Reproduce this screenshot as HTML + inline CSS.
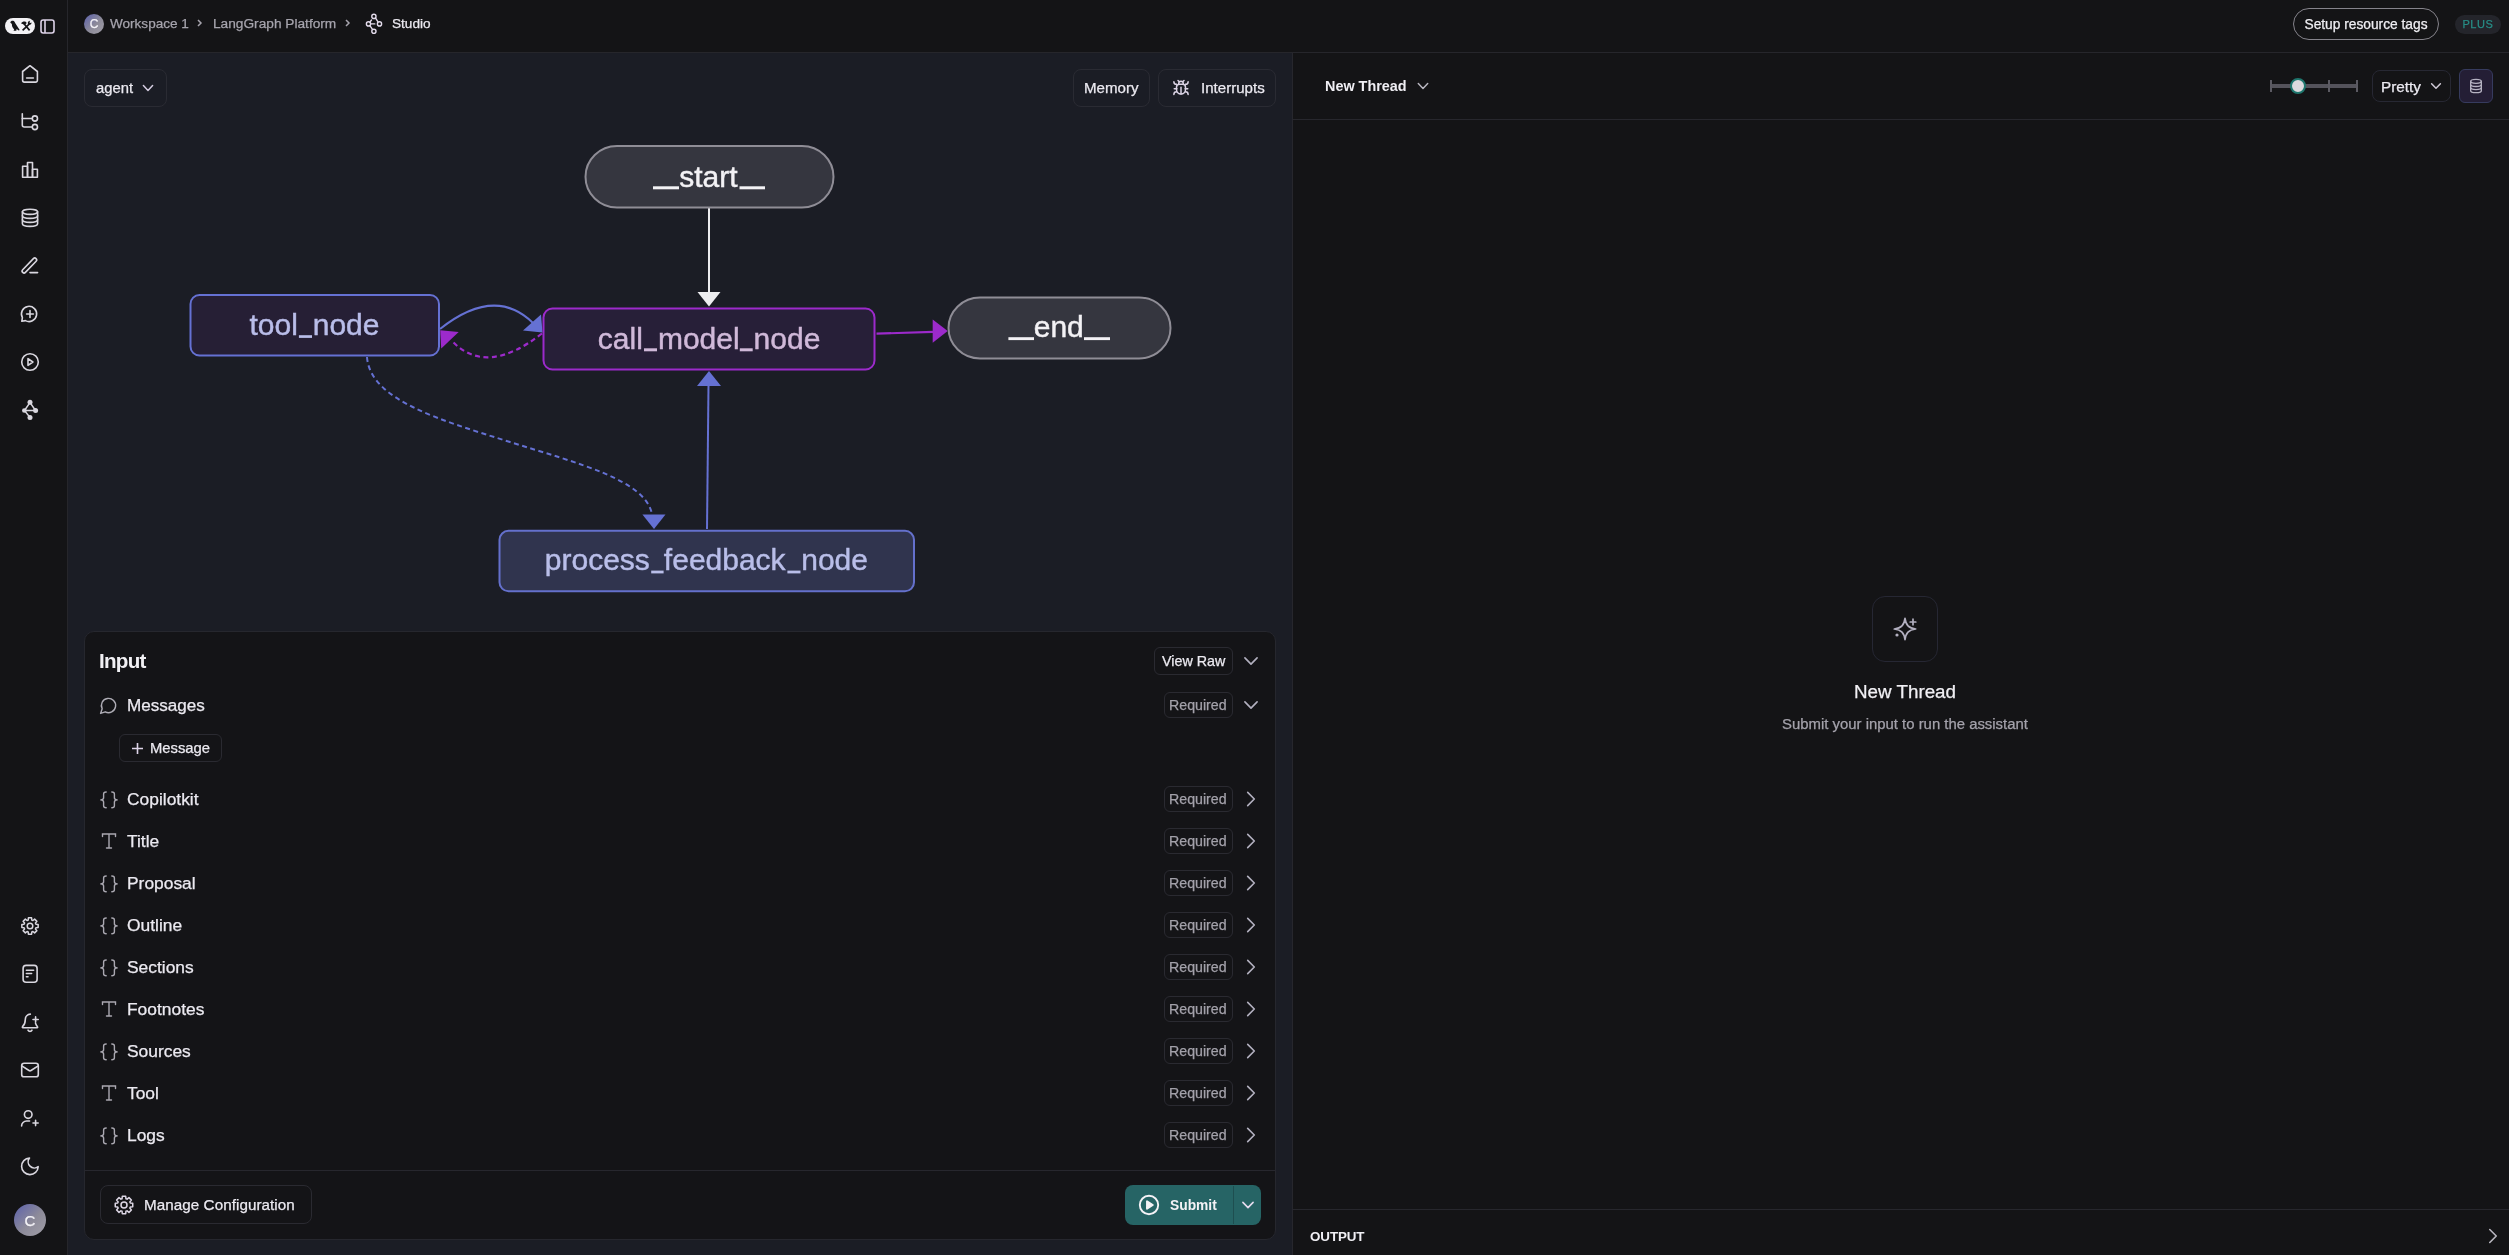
<!DOCTYPE html>
<html><head><meta charset="utf-8">
<style>
*{box-sizing:border-box;margin:0;padding:0}
html,body{width:2509px;height:1255px;overflow:hidden;background:#141416;font-family:"Liberation Sans",sans-serif;color:#ecebf0}
.abs{position:absolute}
#sidebar{position:absolute;left:0;top:0;width:68px;height:1255px;background:#141416;border-right:1px solid #26262b}
#topbar{position:absolute;left:68px;top:0;width:2441px;height:53px;background:#141416;border-bottom:1px solid #26262b}
#canvas{position:absolute;left:68px;top:53px;width:1225px;height:1202px;background:#1b1d25;border-right:1px solid #27272d}
#right{position:absolute;left:1293px;top:53px;width:1216px;height:1202px;background:#141416}
.bx{position:absolute;border:1px solid #2a2a31;border-radius:8px}
.t{position:absolute;white-space:nowrap;line-height:1;will-change:transform;-webkit-text-stroke:.25px currentColor}
.t[style*="bold"]{-webkit-text-stroke:0}
</style></head>
<body>
<div id="sidebar"></div>
<div id="topbar"></div>
<div id="canvas"></div>
<div id="right"></div>

<svg class="abs" style="left:0;top:0" width="67" height="1255" viewBox="0 0 67 1255" fill="none" stroke="#d9d7df" stroke-width="1.6" stroke-linecap="round" stroke-linejoin="round"><path d="M22.6 71.5 30 65.7l7.4 5.8V80.3a1.8 1.8 0 0 1-1.8 1.8H24.4a1.8 1.8 0 0 1-1.8-1.8z"/><path d="M26.6 78h6.8"/><path d="M22.3 113.8V125a2 2 0 0 0 2 2H32.2"/><path d="M22.3 118.5H32.2"/><circle cx="34.9" cy="118.5" r="2.6"/><circle cx="34.9" cy="127" r="2.6"/><path d="M22.6 177.3V166.2h4.9v11.1z"/><path d="M27.5 177.3V162.5h5v14.8z"/><path d="M32.5 177.3V169.3h4.9v8z"/><ellipse cx="30" cy="211.8" rx="7.6" ry="2.6"/><path d="M22.4 211.8v12c0 1.5 3.4 2.6 7.6 2.6s7.6-1.1 7.6-2.6v-12"/><path d="M22.4 215.8c0 1.5 3.4 2.6 7.6 2.6s7.6-1.1 7.6-2.6"/><path d="M22.4 219.8c0 1.5 3.4 2.6 7.6 2.6s7.6-1.1 7.6-2.6"/><path d="M30 272.6h7.6"/><rect x="-9.6" y="-1.9" width="19.2" height="3.8" rx="1.9" transform="translate(29.4 265.5) rotate(-46)"/><path d="M25.4 320.6A7.6 7.6 0 1 0 22.4 317.6L21.8 321.3z"/><path d="M26.6 314h6.8M30 310.6v6.8"/><circle cx="30" cy="362" r="8.3"/><path d="M28 358.6l4.9 3.4-4.9 3.4z"/><path d="M30 402.5 24.5 410.5 30 417.5M24.5 410.5H35.5M30 402.5 35.5 410.5" stroke-width="1.4"/><g fill="#d9d7df" stroke="none"><circle cx="30" cy="402.3" r="2.5"/><circle cx="24.3" cy="410.5" r="2.3"/><circle cx="35.6" cy="410.5" r="2.5"/><circle cx="30" cy="417.6" r="2.5"/></g><path d="M28.19 920.07 L28.42 917.85 L31.58 917.85 L31.81 920.07 L32.91 920.53 L34.64 919.12 L36.88 921.36 L35.47 923.09 L35.93 924.19 L38.15 924.42 L38.15 927.58 L35.93 927.81 L35.47 928.91 L36.88 930.64 L34.64 932.88 L32.91 931.47 L31.81 931.93 L31.58 934.15 L28.42 934.15 L28.19 931.93 L27.09 931.47 L25.36 932.88 L23.12 930.64 L24.53 928.91 L24.07 927.81 L21.85 927.58 L21.85 924.42 L24.07 924.19 L24.53 923.09 L23.12 921.36 L25.36 919.12 L27.09 920.53Z" stroke-width="1.5"/><circle cx="30" cy="926" r="2.8" stroke-width="1.5"/><rect x="23.1" y="965.4" width="14" height="16.8" rx="3"/><path d="M26.4 970.2h7.2M26.4 973.5h5.2M26.4 976.8h1.6"/><path d="M28 1030.2a2.2 2.2 0 0 0 4 0"/><path d="M33 1019.5h5.2M35.6 1016.9v5.2"/><path d="M30.3 1014.1A5.4 5.4 0 0 0 25.3 1019.4c0 4.4-1.3 5.9-2.8 7.3-.3.3-.2 1 .4 1h14.2c.6 0 .7-.7.4-1-.8-.9-1.6-1.8-2-3.6"/><rect x="21.7" y="1063.2" width="16.6" height="13.6" rx="2.4"/><path d="m38.2 1065.8-7.2 4.7a1.8 1.8 0 0 1-2 0l-7.2-4.7"/><circle cx="28.2" cy="1114.6" r="3.8"/><path d="M21.6 1126a5 5 0 0 1 5-5h3"/><path d="M35.6 1120.4v5.2M33 1123h5.2"/><path d="M29.5 1158a6.2 6.2 0 0 0 8.7 8.7 8.3 8.3 0 1 1-8.7-8.7z"/></svg>
<div class="abs" style="left:14px;top:1204px;width:32px;height:32px;border-radius:50%;background:linear-gradient(135deg,#5b60ad 0%,#8d8b99 55%,#a19fa8 100%)"></div>
<div class="t" style="left:14px;top:1213px;width:32px;text-align:center;font-size:15px;color:#f4f3f7">C</div>
<div class="abs" style="left:5px;top:18px;width:30px;height:16px;border-radius:8px;background:#f3f2f5"></div>
<svg class="abs" style="left:5px;top:18px" width="30" height="16" viewBox="0 0 30 16"><path d="M5.3 4.4C5.6 3.1 6.9 2.5 8.1 2.8 9.3 3.1 9.9 4.2 10.3 5.2L14.7 12.1 13.7 12.6 11.6 11.1 11.3 12.7H8.5L9.2 11.6 8.2 10.3C7.2 9 6.8 7.6 6.9 6.1L6 5.3Z" fill="#141416"/><path d="M18.6 5.2 24.6 12.4M24.4 5.9 17.6 12.4" stroke="#141416" stroke-width="1.7"/><path d="M16.1 5.4C16.9 3.9 18.8 3.3 20.6 3.7L21.8 4.9 19.9 6.8Z" fill="#141416"/><path d="M23.4 6.4C22.4 5.4 22.6 3.7 24 3.1L25.2 2.8 24.4 4.3 25.2 5.1 26.6 4.4 26.4 5.6C25.8 6.9 24.3 7.2 23.4 6.4Z" fill="#141416"/></svg>
<svg class="abs" style="left:40px;top:19px" width="15" height="15" viewBox="0 0 15 15" fill="none" stroke="#ddd2e8" stroke-width="1.6"><rect x="1" y="1" width="13" height="13" rx="2.2"/><path d="M5 1v13"/></svg>
<div class="abs" style="left:84px;top:14px;width:20px;height:20px;border-radius:50%;background:linear-gradient(135deg,#5b60ad 0%,#8d8b99 55%,#a19fa8 100%)"></div>
<div class="t" style="left:84px;top:18px;width:20px;text-align:center;font-size:12px;color:#f4f3f7">C</div>
<div class="t" style="left:110px;top:16.6px;font-size:13.55px;color:#a6a4ad">Workspace 1</div>
<svg class="abs" style="left:195px;top:17px" width="10" height="12" viewBox="0 0 10 12" fill="none" stroke="#a6a4ad" stroke-width="1.5"><path d="m3 3 3 3-3 3"/></svg>
<div class="t" style="left:213px;top:16.6px;font-size:13.7px;color:#a6a4ad">LangGraph Platform</div>
<svg class="abs" style="left:343px;top:17px" width="10" height="12" viewBox="0 0 10 12" fill="none" stroke="#a6a4ad" stroke-width="1.5"><path d="m3 3 3 3-3 3"/></svg>
<svg class="abs" style="left:362px;top:10px" width="22" height="26" viewBox="362 10 22 26" fill="none" stroke="#e4dcec" stroke-width="1.4" stroke-linecap="round"><circle cx="373.9" cy="16.4" r="2.1"/><circle cx="368.5" cy="23.9" r="2.1"/><circle cx="379.5" cy="23.9" r="2.1"/><circle cx="373.9" cy="31.3" r="2.1"/><path d="M370.6 23.9h4.2M369.9 22.2l1.6-2.2M375.6 18.2l2.4 3.6M369.9 25.7l2.4 3.5"/></svg>
<div class="t" style="left:392px;top:16.6px;font-size:13.6px;color:#ebe9f0">Studio</div>
<div class="abs" style="left:2293px;top:8px;width:146px;height:32px;border-radius:16px;border:1px solid #85838b"></div>
<div class="t" style="left:2293px;top:18px;width:146px;text-align:center;font-size:13.75px;color:#efeef3">Setup resource tags</div>
<div class="abs" style="left:2455px;top:15px;width:46px;height:19px;border-radius:10px;background:#24252b"></div>
<div class="t" style="left:2455px;top:19px;width:46px;text-align:center;font-size:11px;letter-spacing:.6px;color:#278d86">PLUS</div>
<div class="bx" style="left:84px;top:69px;width:83px;height:38px;border-color:#2a2b33"></div>
<div class="t" style="left:95.5px;top:81px;font-size:14.8px;color:#eceaf1">agent</div>
<svg class="abs" style="left:138px;top:78px" width="20" height="20" viewBox="0 0 20 20" fill="none" stroke="#d4cce0" stroke-width="1.5" stroke-linecap="round" stroke-linejoin="round"><path d="M5.4 7.5 L10 12.5 L14.6 7.5"/></svg>
<div class="bx" style="left:1073px;top:69px;width:77px;height:38px;border-color:#2a2b33"></div>
<div class="t" style="left:1084.4px;top:80px;font-size:15.1px;color:#eceaf1">Memory</div>
<div class="bx" style="left:1158px;top:69px;width:118px;height:38px;border-color:#2a2b33"></div>
<svg class="abs" style="left:1172px;top:79px" width="18" height="18" viewBox="0 0 24 24" fill="none" stroke="#dcd4e6" stroke-width="2" stroke-linecap="round"><path d="m8 2 1.9 1.9M14.1 3.9 16 2M9 7.1v-1a3 3 0 1 1 6 0v1"/><path d="M12 20c-3.3 0-6-2.7-6-6v-3a4 4 0 0 1 4-4h4a4 4 0 0 1 4 4v3c0 3.3-2.7 6-6 6"/><path d="M12 20v-9M6.5 13H3M21 13h-3.5M6 7.1C4 7 2.5 5.5 2.5 3.5M6 17c-2 0-3.5 1.5-3.5 3.5M21.5 3.5c0 2-1.5 3.5-3.5 3.6M18 17c2 0 3.5 1.5 3.5 3.5"/></svg>
<div class="t" style="left:1201.4px;top:80px;font-size:15.1px;color:#eceaf1">Interrupts</div>
<svg class="abs" style="left:0;top:0;will-change:transform" width="2509" height="1255" viewBox="0 0 2509 1255"><path d="M709 208V293" stroke="#ededf0" stroke-width="2" fill="none"/><path d="M697.5 292 L720.5 292 L709 306.5z" fill="#ededf0"/><path d="M440 329 Q495 285.5 533 323" stroke="#6571d3" stroke-width="2" fill="none"/><path d="M523 330.5 L541 314.5 L542.5 332.5z" fill="#6571d3"/><path d="M542 333.5 Q486 377 452 341" stroke="#9c2acb" stroke-width="2.2" fill="none" stroke-dasharray="5 3.5"/><path d="M458.7 332 L441.2 348.6 L440.2 330.2z" fill="#9c2acb"/><path d="M876.5 333.7 L933 331.8" stroke="#9c2acb" stroke-width="2.2" fill="none"/><path d="M932.7 319.6 L932.7 342.8 L947.7 331.1z" fill="#9c2acb"/><path d="M367 357 C370 400 440 420 510 442 C580 464 645 480 652 514" stroke="#6571d3" stroke-width="2" fill="none" stroke-dasharray="5 3.5"/><path d="M642.4 514.6 L665.5 514.6 L654 529z" fill="#6571d3"/><path d="M707 529 L708.5 385" stroke="#6571d3" stroke-width="2" fill="none"/><path d="M697 386 L721 386 L709 371z" fill="#6571d3"/><rect x="585.5" y="146" width="248" height="61.5" rx="31.5" fill="#35363f" stroke="#8f8d96" stroke-width="2"/><text x="679.17" y="186.5" font-family="Liberation Sans" font-size="30" fill="#f3f2f5" stroke="#f3f2f5" stroke-width="0.45">start</text><rect x="653" y="186.3" width="26" height="3.0" fill="#f3f2f5"/><rect x="739.5" y="186.3" width="25.5" height="3.0" fill="#f3f2f5"/><rect x="190.5" y="295" width="248.5" height="60.5" rx="9" fill="#261f35" stroke="#6571d3" stroke-width="2"/><text x="249.45" y="334.9" font-family="Liberation Sans" font-size="30" fill="#b9bde9" stroke="#b9bde9" stroke-width="0.45">tool</text><text x="312.71" y="334.9" font-family="Liberation Sans" font-size="30" fill="#b9bde9" stroke="#b9bde9" stroke-width="0.45">node</text><rect x="298.9" y="335.2" width="13.100000000000023" height="2.6999999999999886" fill="#b9bde9"/><rect x="543.5" y="308.5" width="331" height="61" rx="9" fill="#271f38" stroke="#9c2acb" stroke-width="2"/><text x="597.83" y="348.7" font-family="Liberation Sans" font-size="30" fill="#d0b9d9" stroke="#d0b9d9" stroke-width="0.45">call</text><text x="657.91" y="348.7" font-family="Liberation Sans" font-size="30" fill="#d0b9d9" stroke="#d0b9d9" stroke-width="0.45">model</text><text x="753.61" y="348.7" font-family="Liberation Sans" font-size="30" fill="#d0b9d9" stroke="#d0b9d9" stroke-width="0.45">node</text><rect x="644" y="348.3" width="13" height="3.0" fill="#d0b9d9"/><rect x="739.8" y="348.3" width="12.900000000000091" height="3.0" fill="#d0b9d9"/><rect x="948.5" y="297.5" width="222" height="61" rx="31.5" fill="#35363f" stroke="#8f8d96" stroke-width="2"/><text x="1033.72" y="337" font-family="Liberation Sans" font-size="30" fill="#f3f2f5" stroke="#f3f2f5" stroke-width="0.45">end</text><rect x="1008.4" y="337.2" width="25.600000000000023" height="2.900000000000034" fill="#f3f2f5"/><rect x="1084" y="337.2" width="26" height="2.900000000000034" fill="#f3f2f5"/><rect x="499.5" y="530.8" width="414.5" height="60.5" rx="9" fill="#30344e" stroke="#6470cc" stroke-width="2"/><text x="544.77" y="570.3" font-family="Liberation Sans" font-size="30" fill="#b9bee9" stroke="#b9bee9" stroke-width="0.45">process</text><text x="663.87" y="570.3" font-family="Liberation Sans" font-size="30" fill="#b9bee9" stroke="#b9bee9" stroke-width="0.45">feedback</text><text x="801.21" y="570.3" font-family="Liberation Sans" font-size="30" fill="#b9bee9" stroke="#b9bee9" stroke-width="0.45">node</text><rect x="651.2" y="570.6" width="12.399999999999977" height="2.7999999999999545" fill="#b9bee9"/><rect x="787.4" y="570.6" width="13.100000000000023" height="2.7999999999999545" fill="#b9bee9"/></svg>
<div class="abs" style="left:84px;top:631px;width:1192px;height:609px;border-radius:10px;background:#141417;border:1px solid #26272e"></div>
<div class="abs" style="left:85px;top:1170px;width:1190px;height:1px;background:#27272e"></div>
<div class="t" style="left:99px;top:650.5px;font-size:20.6px;letter-spacing:-0.75px;font-weight:bold;color:#f1f0f4">Input</div>
<div class="bx" style="left:1154px;top:647px;width:79px;height:28px;border-radius:6px"></div>
<div class="t" style="left:1162px;top:653.5px;font-size:14.3px;color:#eceaf1">View Raw</div>
<svg class="abs" style="left:1241px;top:650.9px" width="20" height="20" viewBox="0 0 20 20" fill="none" stroke="#b3b1c0" stroke-width="1.6" stroke-linecap="round" stroke-linejoin="round"><path d="M3.9000000000000004 6.9 L10 13.1 L16.1 6.9"/></svg>
<svg class="abs" style="left:99px;top:696px" width="19" height="19" viewBox="0 0 24 24" fill="none" stroke="#aeacb5" stroke-width="1.8" stroke-linejoin="round"><path d="M7.9 20A9 9 0 1 0 4 16.1L2 22z"/></svg>
<div class="t" style="left:127.4px;top:697px;font-size:17.1px;color:#eceaf1">Messages</div>
<div class="bx" style="left:1164px;top:692px;width:69px;height:26px;border-radius:6px"></div>
<div class="t" style="left:1169px;top:697.5px;font-size:14.2px;color:#a3a1aa">Required</div>
<svg class="abs" style="left:1241px;top:695px" width="20" height="20" viewBox="0 0 20 20" fill="none" stroke="#b3b1c0" stroke-width="1.6" stroke-linecap="round" stroke-linejoin="round"><path d="M3.9000000000000004 6.9 L10 13.1 L16.1 6.9"/></svg>
<div class="bx" style="left:119px;top:734px;width:103px;height:28px;border-radius:6px"></div>
<svg class="abs" style="left:131px;top:742px" width="13" height="13" viewBox="0 0 13 13" fill="none" stroke="#ddd4e8" stroke-width="1.6"><path d="M6.5 1v11M1 6.5h11"/></svg>
<div class="t" style="left:150px;top:741px;font-size:14.8px;color:#eceaf1">Message</div>
<svg class="abs" style="left:100px;top:790.6px" width="18" height="18" viewBox="0 0 18 18" fill="none" stroke="#aaa8b1" stroke-width="1.4" stroke-linecap="round" stroke-linejoin="round"><path d="M6.2 1C4.5 1 3.6 1.6 3.6 3V6.8C3.6 8 2.6 8.8 0.8 8.9 2.6 9 3.6 9.8 3.6 11V14.8C3.6 16.2 4.5 16.8 6.2 16.8"/><path d="M11.8 1C13.5 1 14.4 1.6 14.4 3V6.8C14.4 8 15.4 8.8 17.2 8.9 15.4 9 14.4 9.8 14.4 11V14.8C14.4 16.2 13.5 16.8 11.8 16.8"/></svg>
<div class="t" style="left:127.4px;top:790.7px;font-size:17.4px;color:#eceaf1">Copilotkit</div>
<div class="bx" style="left:1164px;top:786px;width:69px;height:26px;border-radius:6px"></div>
<div class="t" style="left:1169px;top:791.5px;font-size:14.2px;color:#a3a1aa">Required</div>
<svg class="abs" style="left:1241px;top:789px" width="20" height="20" viewBox="0 0 20 20" fill="none" stroke="#b3b1c0" stroke-width="1.6" stroke-linecap="round" stroke-linejoin="round"><path d="M6.7 3.4000000000000004 L13.3 10 L6.7 16.6"/></svg>
<svg class="abs" style="left:101px;top:833px" width="16" height="16" viewBox="0 0 16 16" fill="none" stroke="#aaa8b1" stroke-width="1.4" stroke-linecap="round"><path d="M1.5 3.5V1h13v2.5M8 1v14M5.5 15h5"/></svg>
<div class="t" style="left:127.4px;top:832.7px;font-size:17.4px;color:#eceaf1">Title</div>
<div class="bx" style="left:1164px;top:828px;width:69px;height:26px;border-radius:6px"></div>
<div class="t" style="left:1169px;top:833.5px;font-size:14.2px;color:#a3a1aa">Required</div>
<svg class="abs" style="left:1241px;top:831px" width="20" height="20" viewBox="0 0 20 20" fill="none" stroke="#b3b1c0" stroke-width="1.6" stroke-linecap="round" stroke-linejoin="round"><path d="M6.7 3.4000000000000004 L13.3 10 L6.7 16.6"/></svg>
<svg class="abs" style="left:100px;top:874.6px" width="18" height="18" viewBox="0 0 18 18" fill="none" stroke="#aaa8b1" stroke-width="1.4" stroke-linecap="round" stroke-linejoin="round"><path d="M6.2 1C4.5 1 3.6 1.6 3.6 3V6.8C3.6 8 2.6 8.8 0.8 8.9 2.6 9 3.6 9.8 3.6 11V14.8C3.6 16.2 4.5 16.8 6.2 16.8"/><path d="M11.8 1C13.5 1 14.4 1.6 14.4 3V6.8C14.4 8 15.4 8.8 17.2 8.9 15.4 9 14.4 9.8 14.4 11V14.8C14.4 16.2 13.5 16.8 11.8 16.8"/></svg>
<div class="t" style="left:127.4px;top:874.7px;font-size:17.4px;color:#eceaf1">Proposal</div>
<div class="bx" style="left:1164px;top:870px;width:69px;height:26px;border-radius:6px"></div>
<div class="t" style="left:1169px;top:875.5px;font-size:14.2px;color:#a3a1aa">Required</div>
<svg class="abs" style="left:1241px;top:873px" width="20" height="20" viewBox="0 0 20 20" fill="none" stroke="#b3b1c0" stroke-width="1.6" stroke-linecap="round" stroke-linejoin="round"><path d="M6.7 3.4000000000000004 L13.3 10 L6.7 16.6"/></svg>
<svg class="abs" style="left:100px;top:916.6px" width="18" height="18" viewBox="0 0 18 18" fill="none" stroke="#aaa8b1" stroke-width="1.4" stroke-linecap="round" stroke-linejoin="round"><path d="M6.2 1C4.5 1 3.6 1.6 3.6 3V6.8C3.6 8 2.6 8.8 0.8 8.9 2.6 9 3.6 9.8 3.6 11V14.8C3.6 16.2 4.5 16.8 6.2 16.8"/><path d="M11.8 1C13.5 1 14.4 1.6 14.4 3V6.8C14.4 8 15.4 8.8 17.2 8.9 15.4 9 14.4 9.8 14.4 11V14.8C14.4 16.2 13.5 16.8 11.8 16.8"/></svg>
<div class="t" style="left:127.4px;top:916.7px;font-size:17.4px;color:#eceaf1">Outline</div>
<div class="bx" style="left:1164px;top:912px;width:69px;height:26px;border-radius:6px"></div>
<div class="t" style="left:1169px;top:917.5px;font-size:14.2px;color:#a3a1aa">Required</div>
<svg class="abs" style="left:1241px;top:915px" width="20" height="20" viewBox="0 0 20 20" fill="none" stroke="#b3b1c0" stroke-width="1.6" stroke-linecap="round" stroke-linejoin="round"><path d="M6.7 3.4000000000000004 L13.3 10 L6.7 16.6"/></svg>
<svg class="abs" style="left:100px;top:958.6px" width="18" height="18" viewBox="0 0 18 18" fill="none" stroke="#aaa8b1" stroke-width="1.4" stroke-linecap="round" stroke-linejoin="round"><path d="M6.2 1C4.5 1 3.6 1.6 3.6 3V6.8C3.6 8 2.6 8.8 0.8 8.9 2.6 9 3.6 9.8 3.6 11V14.8C3.6 16.2 4.5 16.8 6.2 16.8"/><path d="M11.8 1C13.5 1 14.4 1.6 14.4 3V6.8C14.4 8 15.4 8.8 17.2 8.9 15.4 9 14.4 9.8 14.4 11V14.8C14.4 16.2 13.5 16.8 11.8 16.8"/></svg>
<div class="t" style="left:127.4px;top:958.7px;font-size:17.4px;color:#eceaf1">Sections</div>
<div class="bx" style="left:1164px;top:954px;width:69px;height:26px;border-radius:6px"></div>
<div class="t" style="left:1169px;top:959.5px;font-size:14.2px;color:#a3a1aa">Required</div>
<svg class="abs" style="left:1241px;top:957px" width="20" height="20" viewBox="0 0 20 20" fill="none" stroke="#b3b1c0" stroke-width="1.6" stroke-linecap="round" stroke-linejoin="round"><path d="M6.7 3.4000000000000004 L13.3 10 L6.7 16.6"/></svg>
<svg class="abs" style="left:101px;top:1001px" width="16" height="16" viewBox="0 0 16 16" fill="none" stroke="#aaa8b1" stroke-width="1.4" stroke-linecap="round"><path d="M1.5 3.5V1h13v2.5M8 1v14M5.5 15h5"/></svg>
<div class="t" style="left:127.4px;top:1000.7px;font-size:17.4px;color:#eceaf1">Footnotes</div>
<div class="bx" style="left:1164px;top:996px;width:69px;height:26px;border-radius:6px"></div>
<div class="t" style="left:1169px;top:1001.5px;font-size:14.2px;color:#a3a1aa">Required</div>
<svg class="abs" style="left:1241px;top:999px" width="20" height="20" viewBox="0 0 20 20" fill="none" stroke="#b3b1c0" stroke-width="1.6" stroke-linecap="round" stroke-linejoin="round"><path d="M6.7 3.4000000000000004 L13.3 10 L6.7 16.6"/></svg>
<svg class="abs" style="left:100px;top:1042.6px" width="18" height="18" viewBox="0 0 18 18" fill="none" stroke="#aaa8b1" stroke-width="1.4" stroke-linecap="round" stroke-linejoin="round"><path d="M6.2 1C4.5 1 3.6 1.6 3.6 3V6.8C3.6 8 2.6 8.8 0.8 8.9 2.6 9 3.6 9.8 3.6 11V14.8C3.6 16.2 4.5 16.8 6.2 16.8"/><path d="M11.8 1C13.5 1 14.4 1.6 14.4 3V6.8C14.4 8 15.4 8.8 17.2 8.9 15.4 9 14.4 9.8 14.4 11V14.8C14.4 16.2 13.5 16.8 11.8 16.8"/></svg>
<div class="t" style="left:127.4px;top:1042.7px;font-size:17.4px;color:#eceaf1">Sources</div>
<div class="bx" style="left:1164px;top:1038px;width:69px;height:26px;border-radius:6px"></div>
<div class="t" style="left:1169px;top:1043.5px;font-size:14.2px;color:#a3a1aa">Required</div>
<svg class="abs" style="left:1241px;top:1041px" width="20" height="20" viewBox="0 0 20 20" fill="none" stroke="#b3b1c0" stroke-width="1.6" stroke-linecap="round" stroke-linejoin="round"><path d="M6.7 3.4000000000000004 L13.3 10 L6.7 16.6"/></svg>
<svg class="abs" style="left:101px;top:1085px" width="16" height="16" viewBox="0 0 16 16" fill="none" stroke="#aaa8b1" stroke-width="1.4" stroke-linecap="round"><path d="M1.5 3.5V1h13v2.5M8 1v14M5.5 15h5"/></svg>
<div class="t" style="left:127.4px;top:1084.7px;font-size:17.4px;color:#eceaf1">Tool</div>
<div class="bx" style="left:1164px;top:1080px;width:69px;height:26px;border-radius:6px"></div>
<div class="t" style="left:1169px;top:1085.5px;font-size:14.2px;color:#a3a1aa">Required</div>
<svg class="abs" style="left:1241px;top:1083px" width="20" height="20" viewBox="0 0 20 20" fill="none" stroke="#b3b1c0" stroke-width="1.6" stroke-linecap="round" stroke-linejoin="round"><path d="M6.7 3.4000000000000004 L13.3 10 L6.7 16.6"/></svg>
<svg class="abs" style="left:100px;top:1126.6px" width="18" height="18" viewBox="0 0 18 18" fill="none" stroke="#aaa8b1" stroke-width="1.4" stroke-linecap="round" stroke-linejoin="round"><path d="M6.2 1C4.5 1 3.6 1.6 3.6 3V6.8C3.6 8 2.6 8.8 0.8 8.9 2.6 9 3.6 9.8 3.6 11V14.8C3.6 16.2 4.5 16.8 6.2 16.8"/><path d="M11.8 1C13.5 1 14.4 1.6 14.4 3V6.8C14.4 8 15.4 8.8 17.2 8.9 15.4 9 14.4 9.8 14.4 11V14.8C14.4 16.2 13.5 16.8 11.8 16.8"/></svg>
<div class="t" style="left:127.4px;top:1126.7px;font-size:17.4px;color:#eceaf1">Logs</div>
<div class="bx" style="left:1164px;top:1122px;width:69px;height:26px;border-radius:6px"></div>
<div class="t" style="left:1169px;top:1127.5px;font-size:14.2px;color:#a3a1aa">Required</div>
<svg class="abs" style="left:1241px;top:1125px" width="20" height="20" viewBox="0 0 20 20" fill="none" stroke="#b3b1c0" stroke-width="1.6" stroke-linecap="round" stroke-linejoin="round"><path d="M6.7 3.4000000000000004 L13.3 10 L6.7 16.6"/></svg>
<div class="bx" style="left:100px;top:1185px;width:212px;height:39px;border-radius:8px"></div>
<svg class="abs" style="left:112px;top:1193px" width="24" height="24" viewBox="112 1193 24 24" fill="none" stroke="#dcd6e4" stroke-width="1.5" stroke-linejoin="round"><path d="M122.07 1198.69 L122.30 1196.26 L125.70 1196.26 L125.93 1198.69 L127.10 1199.17 L128.98 1197.62 L131.38 1200.02 L129.83 1201.90 L130.31 1203.07 L132.74 1203.30 L132.74 1206.70 L130.31 1206.93 L129.83 1208.10 L131.38 1209.98 L128.98 1212.38 L127.10 1210.83 L125.93 1211.31 L125.70 1213.74 L122.30 1213.74 L122.07 1211.31 L120.90 1210.83 L119.02 1212.38 L116.62 1209.98 L118.17 1208.10 L117.69 1206.93 L115.26 1206.70 L115.26 1203.30 L117.69 1203.07 L118.17 1201.90 L116.62 1200.02 L119.02 1197.62 L120.90 1199.17Z"/><circle cx="124" cy="1205" r="3"/></svg>
<div class="t" style="left:144.3px;top:1196.5px;font-size:15.2px;letter-spacing:.07px;color:#eceaf1">Manage Configuration</div>
<div class="abs" style="left:1125px;top:1185px;width:136px;height:40px;border-radius:8px;background:#266465"></div>
<div class="abs" style="left:1233px;top:1186px;width:1px;height:38px;background:#1e4e50"></div>
<svg class="abs" style="left:1138px;top:1194px" width="22" height="22" viewBox="0 0 22 22" fill="none" stroke="#f4f2f6" stroke-width="1.9" stroke-linejoin="round"><circle cx="11" cy="11" r="9.2"/><path d="M9 7.2v7.6l5.8-3.8z" fill="#f4f2f6"/></svg>
<div class="t" style="left:1170px;top:1199px;font-size:13.8px;font-weight:bold;color:#f4f2f6">Submit</div>
<svg class="abs" style="left:1237.7px;top:1195px" width="20" height="20" viewBox="0 0 20 20" fill="none" stroke="#e6dcef" stroke-width="1.6" stroke-linecap="round" stroke-linejoin="round"><path d="M4.9 7.35 L10 12.65 L15.1 7.35"/></svg>
<div class="abs" style="left:1293px;top:119px;width:1216px;height:1px;background:#27272d"></div>
<div class="t" style="left:1325.4px;top:78.5px;font-size:14.4px;font-weight:bold;color:#f0eff4">New Thread</div>
<svg class="abs" style="left:1413px;top:75.9px" width="20" height="20" viewBox="0 0 20 20" fill="none" stroke="#b9b7c0" stroke-width="1.5" stroke-linecap="round" stroke-linejoin="round"><path d="M5.3 7.6 L10 12.4 L14.7 7.6"/></svg>
<div class="abs" style="left:2270px;top:84px;width:88px;height:4px;background:#54535b"></div>
<div class="abs" style="left:2270px;top:80px;width:2px;height:12px;background:#5b5a62"></div>
<div class="abs" style="left:2328px;top:80px;width:2px;height:12px;background:#5b5a62"></div>
<div class="abs" style="left:2356px;top:80px;width:2px;height:12px;background:#5b5a62"></div>
<div class="abs" style="left:2290px;top:78px;width:16px;height:16px;border-radius:50%;background:#dcdade;border:2px solid #1e766d"></div>
<div class="bx" style="left:2372px;top:70px;width:79px;height:32px;border-color:#272833"></div>
<div class="t" style="left:2381px;top:79px;font-size:15.3px;color:#eceaf1">Pretty</div>
<svg class="abs" style="left:2426.1px;top:76px" width="20" height="20" viewBox="0 0 20 20" fill="none" stroke="#cfc9d6" stroke-width="1.5" stroke-linecap="round" stroke-linejoin="round"><path d="M5.6 7.7 L10 12.3 L14.4 7.7"/></svg>
<div class="abs" style="left:2459px;top:69px;width:34px;height:34px;border-radius:6px;background:#241e35;border:1px solid #363b5e"></div>
<svg class="abs" style="left:2468px;top:78px" width="16" height="16" viewBox="0 0 24 24" fill="none" stroke="#b6b3c2" stroke-width="2"><ellipse cx="12" cy="5" rx="8" ry="3"/><path d="M4 5v14c0 1.7 3.6 3 8 3s8-1.3 8-3V5"/><path d="M4 9.7c0 1.7 3.6 3 8 3s8-1.3 8-3"/><path d="M4 14.4c0 1.7 3.6 3 8 3s8-1.3 8-3"/></svg>
<div class="bx" style="left:1872px;top:596px;width:66px;height:66px;border-radius:13px;border-color:#262733"></div>
<svg class="abs" style="left:1885px;top:610px" width="40" height="40" viewBox="1885 610 40 40" fill="none" stroke="#b3b0c0" stroke-width="1.7" stroke-linecap="round" stroke-linejoin="round"><path d="M1905 618.3C1905.9 625.2 1908.6 628 1915.7 629 1908.6 630 1905.9 632.8 1905 639.7 1904.1 632.8 1901.4 630 1894.3 629 1901.4 628 1904.1 625.2 1905 618.3Z"/><path d="M1913 619.2v5.6M1910.2 622h5.6"/><circle cx="1897" cy="635" r="1.6" fill="#b3b0c0" stroke="none"/></svg>
<div class="t" style="left:1705px;top:682.5px;width:400px;text-align:center;font-size:18.8px;color:#f1f0f4">New Thread</div>
<div class="t" style="left:1705px;top:717px;width:400px;text-align:center;font-size:14.9px;color:#a4a2ab">Submit your input to run the assistant</div>
<div class="abs" style="left:1293px;top:1209px;width:1216px;height:1px;background:#27272d"></div>
<div class="t" style="left:1309.6px;top:1229.5px;font-size:13.4px;letter-spacing:-.1px;font-weight:bold;color:#f0eff4">OUTPUT</div>
<svg class="abs" style="left:2483px;top:1226px" width="20" height="20" viewBox="0 0 20 20" fill="none" stroke="#b9b7c0" stroke-width="1.6" stroke-linecap="round" stroke-linejoin="round"><path d="M6.75 3.5 L13.25 10 L6.75 16.5"/></svg>
</body></html>
